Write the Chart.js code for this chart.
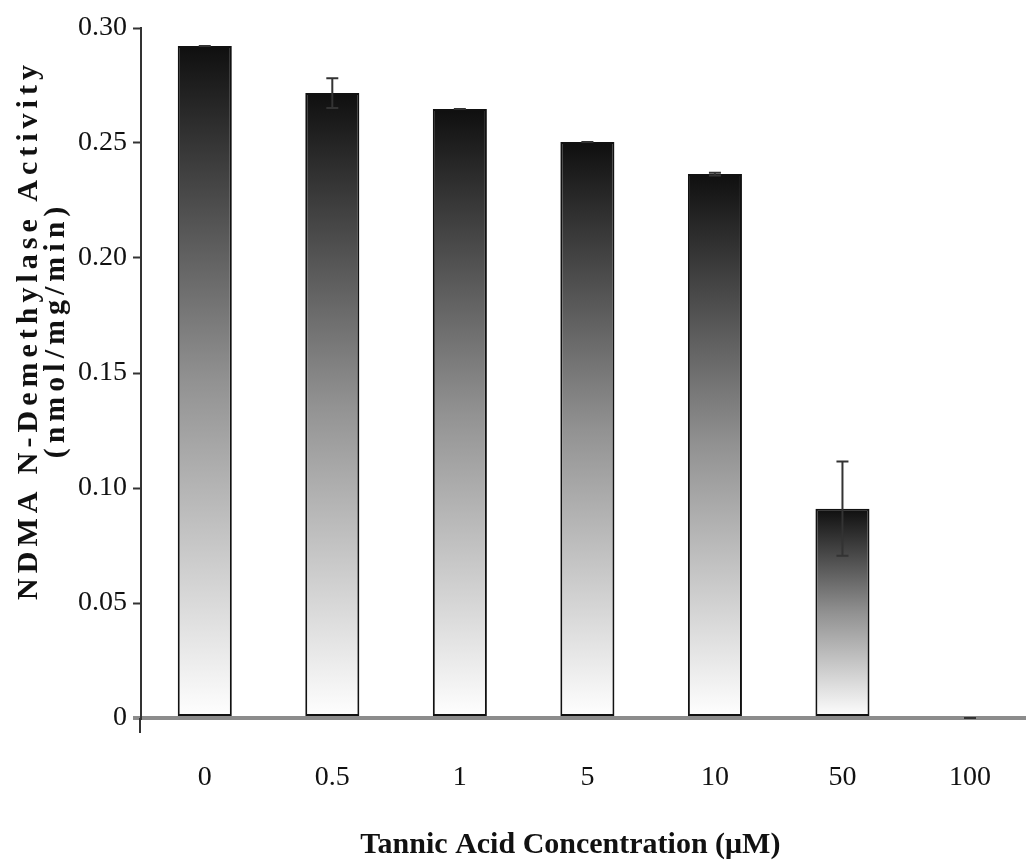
<!DOCTYPE html>
<html>
<head>
<meta charset="utf-8">
<script src="https://cdn.jsdelivr.net/npm/chart.js@4.4.1/dist/chart.umd.min.js"></script>
<style>
  html, body { margin: 0; padding: 0; background: #fff; overflow: hidden; }
  #wrap { width: 1034px; height: 866px; }
</style>
</head>
<body>
<div id="wrap"><canvas id="chart" width="1034" height="866"></canvas></div>
<script>
// values
const concentrations = ['0', '0.5', '1', '5', '10', '50', '100'];
const activity = [0.2922, 0.2717, 0.2648, 0.2504, 0.2365, 0.0910, 0];
const activityErr = [0, 0.0065, 0, 0, 0.0006, 0.0205, 0];
const yTicks = [0, 0.05, 0.10, 0.15, 0.20, 0.25, 0.30];

const serif = "'Liberation Serif', 'Times New Roman', serif";

// per-bar dark-to-white fill
function barFill(ctx) {
    const chart = ctx.chart;
    if (!chart.chartArea) return '#888';
    const ys = chart.scales.y;
    const top = ys.getPixelForValue(ctx.raw);
    const base = ys.getPixelForValue(0);
    if (base - top < 1) return 'rgba(0,0,0,0)';
    const g = chart.ctx.createLinearGradient(0, top, 0, base);
    g.addColorStop(0, '#0f0f0f');
    g.addColorStop(0.5, '#929292');
    g.addColorStop(1, '#ffffff');
    return g;
}

const errorBars = {
    id: 'errorBars',
    afterDatasetsDraw(chart) {
        const c = chart.ctx;
        const ys = chart.scales.y;
        const meta = chart.getDatasetMeta(0);
        c.save();
        c.strokeStyle = '#333';
        c.lineWidth = 2;
        meta.data.forEach((bar, i) => {
            const x = bar.x;
            const hi = ys.getPixelForValue(activity[i] + activityErr[i]);
            const lo = ys.getPixelForValue(Math.max(0, activity[i] - activityErr[i]));
            c.beginPath();
            c.moveTo(x, hi); c.lineTo(x, lo);
            c.moveTo(x - 6, hi); c.lineTo(x + 6, hi);
            c.moveTo(x - 6, lo); c.lineTo(x + 6, lo);
            c.stroke();
        });
        c.restore();
    }
};

// spaced, slightly raised y title, shifted x title, axis stub below zero
function wrapTitle(chart, scale, dx, dy, spacing) {
    if (scale._wrapped) return;
    const orig = scale.drawTitle.bind(scale);
    scale.drawTitle = function () {
        const c = chart.ctx;
        c.save();
        c.letterSpacing = spacing;
        c.translate(dx, dy);
        orig();
        c.restore();
    };
    scale._wrapped = true;
}

const axisStyle = {
    id: 'axisStyle',
    beforeDraw(chart) {
        wrapTitle(chart, chart.scales.y, 0, -43, '5px');
        wrapTitle(chart, chart.scales.x, -17, 0, '0px');
    },
    afterDraw(chart) {
        const c = chart.ctx;
        const s = chart.scales.y;
        const base = s.getPixelForValue(0);
        c.save();
        c.strokeStyle = '#333';
        c.lineWidth = 2;
        c.beginPath();
        c.moveTo(s.right - 1, base);
        c.lineTo(s.right - 1, base + 15);
        c.stroke();
        c.restore();
    }
};

new Chart(document.getElementById('chart'), {
    type: 'bar',
    data: {
        labels: concentrations,
        datasets: [{
            data: activity,
            backgroundColor: barFill,
            borderColor: '#111',
            borderWidth: ctx => (ctx.raw > 0 ? 2 : 0),
            borderSkipped: false,
            categoryPercentage: 1,
            barPercentage: 0.424
        }]
    },
    options: {
        responsive: false,
        animation: false,
        layout: { padding: { top: 28, right: 0, left: 0, bottom: 0 } },
        plugins: {
            legend: { display: false },
            tooltip: { enabled: false }
        },
        scales: {
            x: {
                grid: { display: false, drawTicks: false },
                border: { display: false },
                ticks: {
                    color: '#111',
                    padding: 43,
                    font: { family: serif, size: 28 }
                },
                title: {
                    display: true,
                    text: 'Tannic Acid Concentration (μM)',
                    color: '#111',
                    font: { family: serif, size: 30, weight: 'bold', lineHeight: 1 },
                    padding: { top: 0, bottom: 6 }
                },
                afterFit(scale) { scale.height = 148; }
            },
            y: {
                min: 0,
                max: 0.3,
                afterBuildTicks(scale) {
                    scale.ticks = yTicks.map(v => ({ value: v }));
                },
                grid: {
                    drawOnChartArea: true,
                    color: ctx => (ctx.tick && ctx.tick.value === 0 ? '#8c8c8c' : 'rgba(0,0,0,0)'),
                    lineWidth: ctx => (ctx.tick && ctx.tick.value === 0 ? 4 : 1),
                    tickColor: ctx => (ctx.tick && ctx.tick.value === 0 ? '#8c8c8c' : '#333'),
                    tickWidth: ctx => (ctx.tick && ctx.tick.value === 0 ? 4 : 2),
                    tickLength: 8
                },
                border: { display: true, color: '#333', width: 2 },
                ticks: {
                    color: '#111',
                    padding: 6,
                    font: { family: serif, size: 28 },
                    callback: v => (v === 0 ? '0' : v.toFixed(2))
                },
                title: {
                    display: true,
                    text: ['NDMA N-Demethylase Activity', '(nmol/mg/min)'],
                    color: '#111',
                    font: { family: serif, size: 30, weight: 'bold', lineHeight: 0.9 },
                    padding: { top: 16, bottom: 0 }
                },
                afterFit(scale) { scale.width = 141; }
            }
        }
    },
    plugins: [errorBars, axisStyle]
});
</script>
</body>
</html>
